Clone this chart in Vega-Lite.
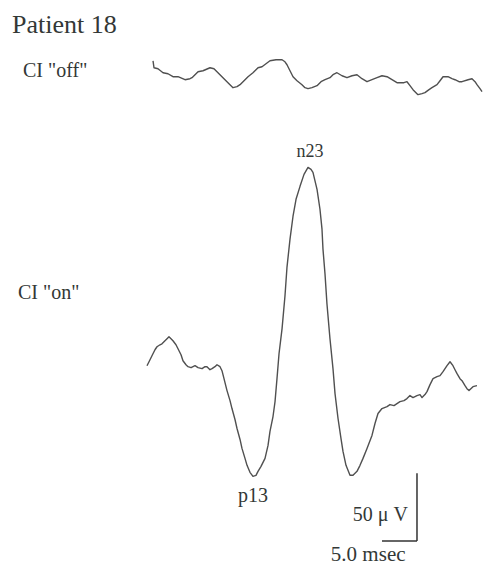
{
  "$schema": "https://vega.github.io/schema/vega-lite/v6.json",
  "width": 483,
  "height": 565,
  "autosize": {"type": "fit", "contains": "padding"},
  "padding": 0,
  "background": "white",
  "config": {
    "view": {"stroke": null},
    "text": {"font": "Liberation Serif", "color": "#333836"},
    "line": {"color": "#505050", "strokeWidth": 1.4, "strokeJoin": "round"},
    "rule": {"color": "#333333", "strokeWidth": 1.5}
  },
  "datasets": {
    "ciOff": [
      {"t": 0.86, "v": 13.97}, {"t": 1.0, "v": 8.82}, {"t": 1.57, "v": 8.09}, {"t": 2.29, "v": 5.15},
      {"t": 3.0, "v": 4.41}, {"t": 3.71, "v": 2.21}, {"t": 4.43, "v": 2.21}, {"t": 5.43, "v": 0},
      {"t": 6.14, "v": 0.74}, {"t": 6.43, "v": 1.47}, {"t": 7.29, "v": 5.88}, {"t": 8.0, "v": 6.62},
      {"t": 9.0, "v": 8.82}, {"t": 9.57, "v": 8.09}, {"t": 10.0, "v": 5.88}, {"t": 10.57, "v": 2.94},
      {"t": 11.14, "v": 0}, {"t": 11.71, "v": -2.94}, {"t": 12.29, "v": -5.88}, {"t": 12.86, "v": -5.15},
      {"t": 13.29, "v": -3.68}, {"t": 13.86, "v": -0.74}, {"t": 14.43, "v": 2.21}, {"t": 15.14, "v": 5.15},
      {"t": 15.86, "v": 8.82}, {"t": 16.43, "v": 9.56}, {"t": 17.0, "v": 11.76}, {"t": 17.57, "v": 13.97},
      {"t": 18.43, "v": 14.71}, {"t": 19.29, "v": 14.71}, {"t": 19.71, "v": 13.24}, {"t": 20.0, "v": 11.03},
      {"t": 20.43, "v": 6.62}, {"t": 20.86, "v": 2.21}, {"t": 21.43, "v": -0.74}, {"t": 22.14, "v": -3.68},
      {"t": 22.57, "v": -5.88}, {"t": 23.0, "v": -6.62}, {"t": 23.57, "v": -5.88}, {"t": 24.29, "v": -4.41},
      {"t": 24.86, "v": -1.47}, {"t": 25.43, "v": 0}, {"t": 26.14, "v": 1.47}, {"t": 26.57, "v": 3.68},
      {"t": 27.14, "v": 5.15}, {"t": 27.86, "v": 2.94}, {"t": 28.57, "v": 1.47}, {"t": 29.29, "v": 2.94},
      {"t": 30.0, "v": 3.68}, {"t": 30.71, "v": 0.74}, {"t": 31.43, "v": -1.47}, {"t": 32.14, "v": 0},
      {"t": 32.86, "v": 1.47}, {"t": 33.57, "v": 2.94}, {"t": 34.29, "v": 2.21}, {"t": 35.0, "v": 0},
      {"t": 35.71, "v": -2.21}, {"t": 36.14, "v": -2.21}, {"t": 36.71, "v": -2.21}, {"t": 37.14, "v": -1.47},
      {"t": 37.57, "v": -4.41}, {"t": 38.0, "v": -7.35}, {"t": 38.71, "v": -11.03}, {"t": 39.29, "v": -10.29},
      {"t": 39.71, "v": -9.56}, {"t": 40.29, "v": -7.35}, {"t": 40.71, "v": -5.88}, {"t": 41.43, "v": -3.68},
      {"t": 41.86, "v": -0.74}, {"t": 42.29, "v": 2.21}, {"t": 43.0, "v": 2.21}, {"t": 43.57, "v": 0.74},
      {"t": 44.0, "v": 0}, {"t": 44.57, "v": -1.47}, {"t": 45.0, "v": -1.47}, {"t": 45.86, "v": 0},
      {"t": 46.43, "v": 0.74}, {"t": 46.86, "v": -1.47}, {"t": 47.14, "v": -3.68}, {"t": 47.57, "v": -6.62},
      {"t": 47.86, "v": -8.82}
    ],
    "ciOn": [
      {"t": 0, "v": 2.21}, {"t": 0.43, "v": 6.62}, {"t": 0.71, "v": 9.56}, {"t": 1.14, "v": 13.97},
      {"t": 1.43, "v": 16.18}, {"t": 1.86, "v": 17.65}, {"t": 2.14, "v": 18.38}, {"t": 2.57, "v": 20.59},
      {"t": 2.86, "v": 22.06}, {"t": 3.14, "v": 23.53}, {"t": 3.43, "v": 22.06}, {"t": 3.71, "v": 20.59},
      {"t": 4.14, "v": 17.65}, {"t": 4.43, "v": 14.71}, {"t": 4.86, "v": 10.29}, {"t": 5.14, "v": 5.88},
      {"t": 5.57, "v": 2.94}, {"t": 5.86, "v": 1.47}, {"t": 6.29, "v": 0.74}, {"t": 6.86, "v": 2.21},
      {"t": 7.29, "v": 0.74}, {"t": 7.86, "v": 0}, {"t": 8.29, "v": 1.47}, {"t": 8.57, "v": 1.47},
      {"t": 9.0, "v": -0.74}, {"t": 9.29, "v": 0}, {"t": 9.71, "v": 1.47}, {"t": 10.0, "v": 2.94},
      {"t": 10.43, "v": 1.47}, {"t": 10.71, "v": -1.47}, {"t": 11.0, "v": -7.35}, {"t": 11.43, "v": -16.18},
      {"t": 11.86, "v": -23.53}, {"t": 12.14, "v": -29.41}, {"t": 12.57, "v": -37.5}, {"t": 12.86, "v": -44.12},
      {"t": 13.29, "v": -52.21}, {"t": 13.57, "v": -58.82}, {"t": 14.0, "v": -66.18}, {"t": 14.29, "v": -71.32},
      {"t": 14.71, "v": -76.47}, {"t": 15.14, "v": -79.41}, {"t": 15.57, "v": -78.68}, {"t": 15.86, "v": -75.74},
      {"t": 16.29, "v": -72.06}, {"t": 16.86, "v": -66.18}, {"t": 17.29, "v": -56.62}, {"t": 17.57, "v": -46.32},
      {"t": 18.0, "v": -35.29}, {"t": 18.29, "v": -24.26}, {"t": 18.57, "v": -7.35}, {"t": 18.86, "v": 11.03},
      {"t": 19.29, "v": 29.41}, {"t": 19.71, "v": 53.68}, {"t": 20.0, "v": 75.0}, {"t": 20.43, "v": 95.59},
      {"t": 20.86, "v": 112.5}, {"t": 21.29, "v": 125.0}, {"t": 21.86, "v": 134.56}, {"t": 22.43, "v": 143.38},
      {"t": 23.0, "v": 148.53}, {"t": 23.43, "v": 147.06}, {"t": 23.71, "v": 144.85}, {"t": 24.29, "v": 132.35},
      {"t": 24.71, "v": 117.65}, {"t": 25.0, "v": 102.94}, {"t": 25.14, "v": 88.24}, {"t": 25.43, "v": 69.85},
      {"t": 25.71, "v": 47.79}, {"t": 26.14, "v": 22.06}, {"t": 26.57, "v": 0}, {"t": 26.86, "v": -18.38},
      {"t": 27.29, "v": -36.76}, {"t": 27.71, "v": -51.47}, {"t": 28.0, "v": -61.03}, {"t": 28.43, "v": -71.32},
      {"t": 29.0, "v": -78.68}, {"t": 29.43, "v": -78.68}, {"t": 30.0, "v": -75.74}, {"t": 30.43, "v": -71.32},
      {"t": 30.86, "v": -66.18}, {"t": 31.43, "v": -58.82}, {"t": 32.14, "v": -49.26}, {"t": 32.57, "v": -40.44},
      {"t": 33.0, "v": -33.09}, {"t": 33.57, "v": -29.41}, {"t": 34.29, "v": -27.94}, {"t": 34.71, "v": -26.47},
      {"t": 35.29, "v": -27.21}, {"t": 35.71, "v": -25.74}, {"t": 36.14, "v": -24.26}, {"t": 36.71, "v": -23.53},
      {"t": 37.14, "v": -22.06}, {"t": 37.57, "v": -19.85}, {"t": 38.0, "v": -21.32}, {"t": 38.57, "v": -19.85},
      {"t": 39.0, "v": -19.12}, {"t": 39.29, "v": -21.32}, {"t": 39.71, "v": -19.12}, {"t": 40.0, "v": -16.91},
      {"t": 40.43, "v": -11.76}, {"t": 40.86, "v": -7.35}, {"t": 41.43, "v": -5.88}, {"t": 41.86, "v": -5.15},
      {"t": 42.29, "v": -2.21}, {"t": 42.86, "v": 2.21}, {"t": 43.29, "v": 5.15}, {"t": 43.71, "v": 2.21},
      {"t": 44.0, "v": -0.74}, {"t": 44.29, "v": -3.68}, {"t": 44.71, "v": -7.35}, {"t": 45.0, "v": -8.82},
      {"t": 45.43, "v": -12.5}, {"t": 45.71, "v": -14.71}, {"t": 46.0, "v": -16.18}, {"t": 46.57, "v": -13.24},
      {"t": 47.14, "v": -12.5}
    ]
  },
  "resolve": {"scale": {"y": "independent"}},
  "layer": [
    {
      "encoding": {
        "x": {"field": "t", "type": "quantitative", "scale": {"domain": [-21, 48], "nice": false, "zero": false}, "axis": null},
        "y": {"field": "v", "type": "quantitative", "scale": {"domain": [-356.62, 58.82], "nice": false, "zero": false}, "axis": null}
      },
      "layer": [
        {"data": {"name": "ciOff"}, "mark": {"type": "line"}},
        {
          "data": {"values": [{"t": -19.29, "v": 34.6, "label": "Patient 18"}]},
          "mark": {"type": "text", "align": "left", "baseline": "alphabetic", "fontSize": 26},
          "encoding": {"text": {"field": "label"}}
        },
        {
          "data": {"values": [{"t": -17.71, "v": 2.2, "label": "CI \"off\""}]},
          "mark": {"type": "text", "align": "left", "baseline": "alphabetic", "fontSize": 20},
          "encoding": {"text": {"field": "label"}}
        }
      ]
    },
    {
      "encoding": {
        "x": {"field": "t", "type": "quantitative", "scale": {"domain": [-21, 48], "nice": false, "zero": false}, "axis": null},
        "y": {"field": "v", "type": "quantitative", "scale": {"domain": [-143.38, 272.06], "nice": false, "zero": false}, "axis": null}
      },
      "layer": [
        {"data": {"name": "ciOn"}, "mark": {"type": "line"}},
        {
          "data": {"values": [{"t": -18.43, "v": 51.5, "label": "CI \"on\""}]},
          "mark": {"type": "text", "align": "left", "baseline": "alphabetic", "fontSize": 20},
          "encoding": {"text": {"field": "label"}}
        },
        {
          "data": {"values": [{"t": 23.29, "v": 155.9, "label": "n23"}]},
          "mark": {"type": "text", "align": "center", "baseline": "alphabetic", "fontSize": 18},
          "encoding": {"text": {"field": "label"}}
        },
        {
          "data": {"values": [{"t": 15.14, "v": -98.5, "label": "p13"}]},
          "mark": {"type": "text", "align": "center", "baseline": "alphabetic", "fontSize": 20},
          "encoding": {"text": {"field": "label"}}
        },
        {
          "data": {"values": [{"t": 38.57, "v": -127.2, "v2": -77.2}]},
          "mark": {"type": "rule"},
          "encoding": {"y2": {"field": "v2"}}
        },
        {
          "data": {"values": [{"t": 33.57, "t2": 38.57, "v": -127.2}]},
          "mark": {"type": "rule"},
          "encoding": {"x2": {"field": "t2"}}
        },
        {
          "data": {"values": [{"t": 37.29, "v": -112.5, "label": "50 μ V"}]},
          "mark": {"type": "text", "align": "right", "baseline": "alphabetic", "fontSize": 20},
          "encoding": {"text": {"field": "label"}}
        },
        {
          "data": {"values": [{"t": 31.6, "v": -141.9, "label": "5.0 msec"}]},
          "mark": {"type": "text", "align": "center", "baseline": "alphabetic", "fontSize": 21},
          "encoding": {"text": {"field": "label"}}
        }
      ]
    }
  ]
}
